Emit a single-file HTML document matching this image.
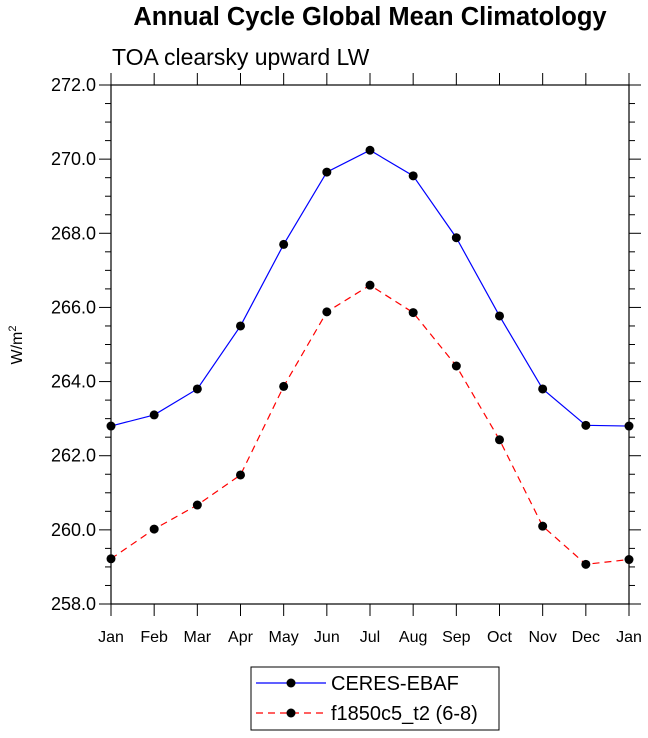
<!DOCTYPE html>
<html><head><meta charset="utf-8"><style>
body{margin:0;background:#fff;}
svg{display:block;font-family:"Liberation Sans",sans-serif;}
</style></head><body>
<svg id="chart" width="648" height="738">
<text x="370" y="25" text-anchor="middle" font-size="25.5" font-weight="bold">Annual Cycle Global Mean Climatology</text>
<text x="112" y="65" font-size="23">TOA clearsky upward LW</text>
<text transform="translate(22,345) rotate(-90)" text-anchor="middle" font-size="16">W/m<tspan dy="-6" font-size="11">2</tspan></text>
<g id="axes"></g>
<g id="series"></g>
<g>
<rect x="251" y="667" width="248" height="63" fill="#fff" stroke="#000" stroke-width="1"/>
<g>
<line x1="256" y1="683" x2="326" y2="683" stroke="#0000ff" stroke-width="1.2"/>
<circle cx="291" cy="683" r="4.5" fill="#000"/>
<text x="331" y="690" font-size="20">CERES-EBAF</text>
</g>
<g>
<line x1="256" y1="713" x2="326" y2="713" stroke="#ff0000" stroke-width="1.2" stroke-dasharray="7,5"/>
<circle cx="291" cy="713" r="4.5" fill="#000"/>
<text x="331" y="720" font-size="20">f1850c5_t2 (6-8)</text>
</g>
</g>
</svg>
<script>
const months=["Jan","Feb","Mar","Apr","May","Jun","Jul","Aug","Sep","Oct","Nov","Dec","Jan"];
const ceres=[262.8,263.1,263.8,265.5,267.7,269.65,270.24,269.55,267.88,265.77,263.8,262.82,262.8];
const model=[259.22,260.02,260.67,261.48,263.87,265.88,266.6,265.86,264.42,262.43,260.1,259.07,259.2];
const yTicks=["258.0","260.0","262.0","264.0","266.0","268.0","270.0","272.0"];
const ns="http://www.w3.org/2000/svg";
const X0=111,X1=629,Y0=604,Y1=85,YMIN=258,YMAX=272;
const xs=i=>X0+(X1-X0)*i/(months.length-1);
const ys=v=>Y0-(v-YMIN)/(YMAX-YMIN)*(Y0-Y1);
function mk(t,a,p){const e=document.createElementNS(ns,t);for(const k in a)e.setAttribute(k,a[k]);(p||document.getElementById('axes')).appendChild(e);return e;}
const fr=mk('rect',{x:X0,y:Y1,width:X1-X0,height:Y0-Y1,fill:'none',stroke:'#000','stroke-width':1.2});


for(let v=YMIN;v<=YMAX+1e-6;v+=0.5){
 const y=ys(v);const major=Math.abs(v%2)<1e-6;const L=major?12:6;
 mk('line',{x1:X0-L,y1:y,x2:X0,y2:y,stroke:'#000','stroke-width':1});
 mk('line',{x1:X1,y1:y,x2:X1+L,y2:y,stroke:'#000','stroke-width':1});
}
yTicks.forEach(s=>{const t=mk('text',{x:X0-15,y:ys(parseFloat(s))+6,'text-anchor':'end','font-size':18});t.textContent=s;

});
months.forEach((m,i)=>{const x=xs(i);
 mk('line',{x1:x,y1:Y0,x2:x,y2:Y0+12,stroke:'#000','stroke-width':1});
 mk('line',{x1:x,y1:Y1-12,x2:x,y2:Y1,stroke:'#000','stroke-width':1});
 const t=mk('text',{x:x,y:Y0+38,'text-anchor':'middle','font-size':16});t.textContent=m;
 
 });
const sg=document.getElementById('series');
function series(vals,color,dash,name){
 const pts=vals.map((v,i)=>xs(i)+','+ys(v)).join(' ');
 const pl=mk('polyline',{points:pts,fill:'none',stroke:color,'stroke-width':1.2,'stroke-dasharray':dash},sg);
 
 
 vals.forEach((v,i)=>{const c=mk('circle',{cx:xs(i),cy:ys(v),r:4.5,fill:'#000'},sg);
 
 });
}
series(ceres,'#0000ff','none','ceres');
series(model,'#ff0000','7,5','model');
</script>
</body></html>
